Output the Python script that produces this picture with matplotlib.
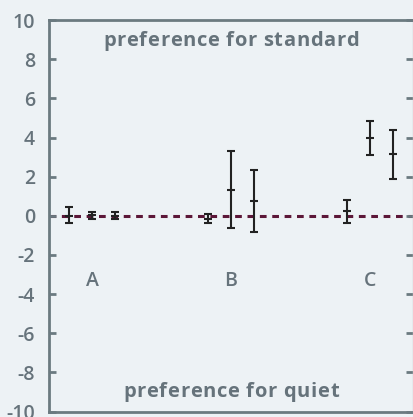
import matplotlib.pyplot as plt
from matplotlib.font_manager import FontProperties, findfont
from matplotlib.ft2font import FT2Font

groups = ["A", "B", "C"]
means = [
    [0.0, 0.02, 0.0],
    [-0.14, 1.34, 0.78],
    [0.27, 3.98, 3.16],
]
err_hi = [
    [0.44, 0.17, 0.18],
    [0.26, 1.96, 1.55],
    [0.56, 0.87, 1.23],
]
err_lo = [
    [0.39, 0.17, 0.18],
    [0.25, 1.94, 1.60],
    [0.61, 0.85, 1.26],
]
yticks = [-10, -8, -6, -4, -2, 0, 2, 4, 6, 8, 10]

bg = "#edf2f5"
txt = "#66737b"
DPI = 100

plt.rcParams["font.family"] = ["Open Sans", "DejaVu Sans"]
fig = plt.figure(figsize=(4.14, 4.17), dpi=DPI, facecolor=bg)
ax = fig.add_axes([49 / 414, 5.5 / 417, 364 / 414, 391.3 / 417], facecolor=bg)


def spaced_text(ax, x, y, s, spacing, size, weight):
    # centred text with extra letter spacing (pixels)
    fp = FontProperties(family="Open Sans", size=size, weight=weight)
    font = FT2Font(findfont(fp))
    font.set_size(size, DPI)
    adv = [font.load_char(ord(c)).linearHoriAdvance / 65536 for c in s]
    total = sum(adv) + spacing * (len(s) - 1)
    pos = -total / 2
    for c, a in zip(s, adv):
        ax.annotate(c, (x, y), xytext=(pos, 0), textcoords="offset pixels",
                    ha="left", va="baseline", fontproperties=fp, color=txt)
        pos += a + spacing


offsets = [-0.166, 0.0, 0.166]
ax.axhline(0, color="#5c1738", lw=2.2, ls=(0, (2.2, 1.85)), zorder=1)
for g in range(len(groups)):
    xs = [g + 1 + o for o in offsets]
    ax.errorbar(xs, means[g], yerr=[err_lo[g], err_hi[g]], fmt="_", ms=6,
                mew=1.5, color="#222222", ecolor="#222222", elinewidth=1.5,
                capsize=3, capthick=1.5, zorder=3)
    ax.text(g + 1, -3.57, groups[g], ha="center", va="baseline",
            fontsize=14, fontweight="semibold", color=txt)

spaced_text(ax, 2, 8.66, "preference for standard", 0.7, 14.5, "bold")
spaced_text(ax, 2, -9.25, "preference for quiet", 0.7, 14.5, "bold")

ax.set_xlim(0.69, 3.31)
ax.set_ylim(-10, 10)
ax.set_xticks([])
ax.set_yticks(yticks)
ax.set_yticklabels([str(t) for t in yticks])
ax.tick_params(axis="y", direction="in", length=5, width=2, color="#6b7a80",
               labelcolor=txt, labelsize=14, right=True, pad=10)
for lab in ax.get_yticklabels():
    lab.set_fontweight("semibold")
for side in ["left", "top", "bottom"]:
    ax.spines[side].set_color("#6b7a80")
    ax.spines[side].set_linewidth(2)
ax.spines["right"].set_color("#c5ccd0")
ax.spines["right"].set_linewidth(1)

fig.savefig("out.png", dpi=DPI, facecolor=bg)
